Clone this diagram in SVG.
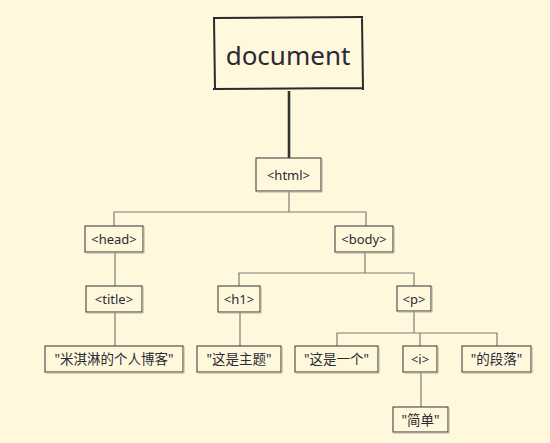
<svg xmlns="http://www.w3.org/2000/svg" width="550" height="443" viewBox="0 0 550 443">
<style>
.box{fill:none;stroke:#444;stroke-width:1.1}
.sh{fill:none;stroke:#b0ab98;stroke-width:1}
.t{font-family:"Noto Sans","Noto Sans CJK SC",sans-serif;font-size:13px;fill:#2a2a35;text-anchor:middle}
.c{font-family:"Noto Sans","Noto Sans CJK SC",sans-serif;font-size:13.5px;fill:#2a2a35;text-anchor:middle}
.ln{fill:none;stroke:#7d7d77;stroke-width:1.2}
</style>
<rect x="0" y="0" width="550" height="443" fill="#fff8dc"/>
<g id="connectors">
<path d="M289 91 V158" fill="none" stroke="#333" stroke-width="2.6"/>
<path class="ln" d="M289 191 V212 M114 226 V212 H366 V226"/>
<path class="ln" d="M115 252 V286 M115 312 V346"/>
<path class="ln" d="M365 252 V273 M239 286 V273 H414 V286 M240 312 V346"/>
<path class="ln" d="M414 311 V333 M337 346 V333 H497 V346 M420 333 V346 M421 372 V407"/>
</g>
<g id="document">
<path d="M213 18 L363 17 M214 18 L215 89 M213 89 L362 88 M362 18 L363 90" fill="none" stroke="#2a2a2a" stroke-width="2"/>
<text x="288" y="65" font-family="Noto Sans,sans-serif" font-size="26px" fill="#2a2a35" text-anchor="middle">document</text>
</g>
<g id="html">
<rect class="box" x="256" y="158" width="65" height="33"/>
<path class="sh" d="M322 159 V192 H257"/>
<text class="t" x="288.5" y="180">&lt;html&gt;</text>
</g>
<g id="head">
<rect class="box" x="85" y="226" width="58" height="26"/>
<path class="sh" d="M144 227 V253 H86"/>
<text class="t" x="114" y="244">&lt;head&gt;</text>
</g>
<g id="body">
<rect class="box" x="335" y="226" width="58" height="26"/>
<path class="sh" d="M394 227 V253 H336"/>
<text class="t" x="364" y="244">&lt;body&gt;</text>
</g>
<g id="title">
<rect class="box" x="86" y="286" width="56" height="26"/>
<path class="sh" d="M143 287 V313 H87"/>
<text class="t" x="114" y="304">&lt;title&gt;</text>
</g>
<g id="h1">
<rect class="box" x="218" y="286" width="42" height="26"/>
<path class="sh" d="M261 287 V313 H219"/>
<text class="t" x="239" y="304">&lt;h1&gt;</text>
</g>
<g id="p">
<rect class="box" x="397" y="286" width="34" height="25"/>
<path class="sh" d="M432 287 V312 H398"/>
<text class="t" x="414" y="304">&lt;p&gt;</text>
</g>
<g id="text-title">
<rect class="box" x="45" y="346" width="138" height="26"/>
<path class="sh" d="M184 347 V373 H46"/>
<text class="c" x="114" y="364">"米淇淋的个人博客"</text>
</g>
<g id="text-h1">
<rect class="box" x="197" y="346" width="84" height="26"/>
<path class="sh" d="M282 347 V373 H198"/>
<text class="c" x="239" y="364">"这是主题"</text>
</g>
<g id="text-p1">
<rect class="box" x="295" y="346" width="83" height="26"/>
<path class="sh" d="M379 347 V373 H296"/>
<text class="c" x="336.5" y="364">"这是一个"</text>
</g>
<g id="i">
<rect class="box" x="403" y="346" width="34" height="26"/>
<path class="sh" d="M438 347 V373 H404"/>
<text class="t" x="420" y="364">&lt;i&gt;</text>
</g>
<g id="text-p2">
<rect class="box" x="462" y="346" width="69" height="26"/>
<path class="sh" d="M532 347 V373 H463"/>
<text class="c" x="496.5" y="364">"的段落"</text>
</g>
<g id="text-i">
<rect class="box" x="393" y="407" width="55" height="25"/>
<path class="sh" d="M449 408 V433 H394"/>
<text class="c" x="420.5" y="425">"简单"</text>
</g>
</svg>
